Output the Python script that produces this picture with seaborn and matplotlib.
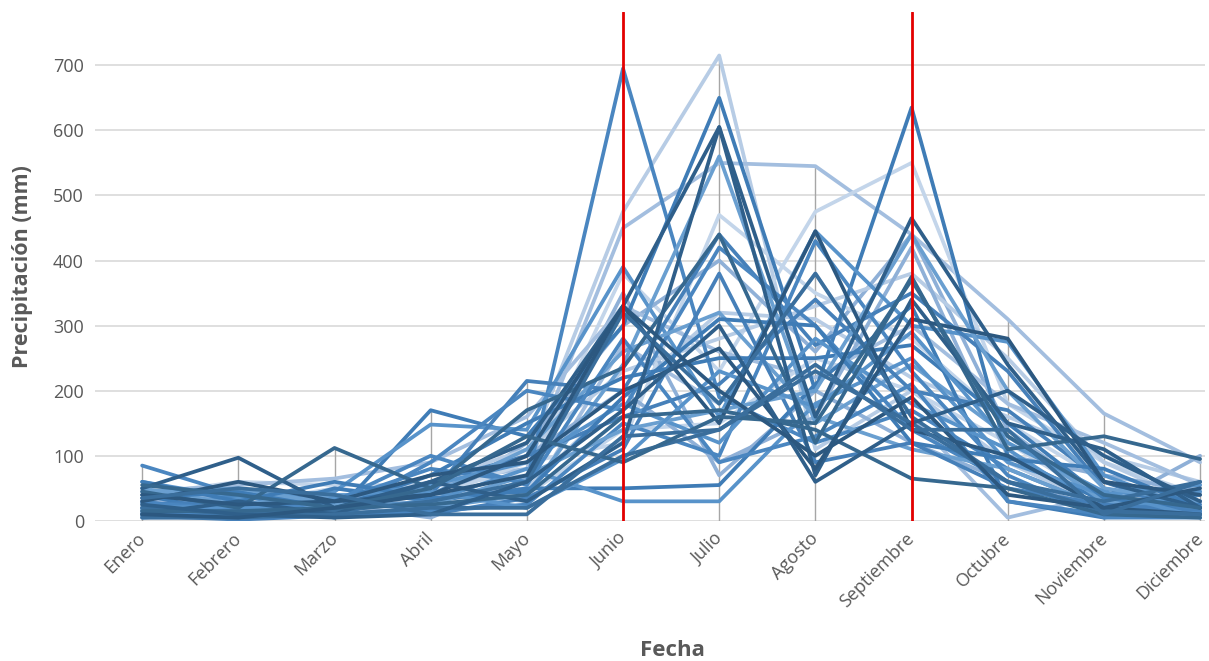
import pandas as pd
import seaborn as sns
import matplotlib.pyplot as plt
from matplotlib.transforms import ScaledTranslation

# Months (x axis categories)
meses = ['Enero', 'Febrero', 'Marzo', 'Abril', 'Mayo', 'Junio', 'Julio',
         'Agosto', 'Septiembre', 'Octubre', 'Noviembre', 'Diciembre']

# Monthly precipitation (mm) per year, grouped by line shade as in the chart
oscuras = [
    [50, 97, 20, 60, 120, 330, 605, 160, 465, 240, 60, 20],
    [45, 20, 112, 50, 170, 235, 440, 120, 375, 110, 130, 95],
    [30, 60, 30, 40, 100, 330, 150, 445, 140, 100, 20, 10],
    [20, 10, 15, 30, 60, 320, 180, 380, 160, 60, 30, 60],
    [10, 30, 10, 60, 30, 120, 605, 70, 340, 150, 110, 20],
    [15, 15, 20, 25, 40, 160, 170, 140, 65, 50, 10, 5],
    [40, 25, 30, 70, 90, 200, 265, 80, 310, 280, 60, 40],
    [5, 5, 10, 20, 20, 100, 140, 230, 150, 60, 15, 10],
    [25, 10, 5, 10, 60, 170, 300, 60, 150, 200, 100, 30],
    [55, 40, 20, 50, 130, 90, 160, 150, 370, 130, 40, 20],
    [10, 5, 20, 40, 70, 330, 200, 100, 190, 40, 20, 50],
    [35, 50, 40, 10, 10, 130, 140, 240, 140, 140, 10, 60],
]
medias = [
    [85, 40, 30, 80, 60, 695, 190, 120, 170, 80, 20, 10],
    [20, 20, 10, 170, 130, 300, 650, 200, 635, 100, 30, 20],
    [60, 35, 45, 148, 140, 390, 160, 445, 300, 275, 70, 15],
    [30, 10, 30, 40, 215, 200, 440, 270, 350, 230, 50, 20],
    [10, 20, 25, 20, 40, 240, 560, 150, 240, 130, 30, 10],
    [15, 40, 10, 90, 200, 170, 420, 300, 140, 60, 10, 40],
    [40, 10, 50, 30, 50, 50, 55, 210, 330, 30, 5, 30],
    [5, 15, 20, 30, 80, 30, 30, 180, 250, 90, 40, 55],
    [25, 30, 5, 60, 100, 160, 210, 340, 200, 170, 60, 10],
    [50, 25, 40, 40, 110, 260, 320, 160, 110, 80, 20, 15],
    [12, 8, 12, 15, 25, 150, 100, 430, 230, 70, 5, 5],
    [35, 45, 20, 70, 150, 220, 250, 250, 270, 150, 35, 25],
    [18, 12, 35, 55, 90, 180, 120, 280, 180, 110, 15, 45],
    [8, 2, 8, 10, 35, 110, 380, 90, 120, 50, 25, 15],
    [45, 50, 25, 25, 70, 140, 170, 200, 440, 200, 50, 30],
    [28, 18, 30, 100, 55, 280, 90, 130, 210, 30, 10, 12],
    [60, 30, 60, 35, 45, 190, 310, 300, 120, 95, 80, 20],
    [20, 22, 15, 45, 20, 95, 230, 175, 290, 120, 45, 5],
]
claras = [
    [30, 20, 20, 30, 100, 475, 715, 110, 200, 90, 20, 10],
    [20, 10, 30, 60, 80, 450, 550, 545, 440, 310, 165, 90],
    [40, 60, 55, 55, 70, 380, 230, 475, 550, 180, 90, 40],
    [15, 30, 40, 20, 120, 300, 400, 260, 440, 140, 30, 20],
    [10, 45, 20, 40, 50, 190, 320, 310, 220, 160, 100, 60],
    [35, 15, 10, 45, 30, 270, 180, 380, 160, 5, 40, 20],
    [50, 25, 50, 35, 90, 120, 470, 350, 280, 150, 60, 30],
    [5, 5, 25, 5, 65, 350, 70, 200, 120, 60, 20, 100],
    [22, 35, 15, 60, 110, 230, 280, 330, 380, 250, 90, 25],
    [45, 55, 65, 90, 160, 330, 260, 220, 300, 180, 120, 55],
    [12, 8, 18, 25, 40, 140, 150, 250, 200, 120, 30, 15],
    [28, 40, 35, 50, 100, 200, 90, 160, 420, 100, 70, 45],
]

tonos_claros = ['#b7cce5', '#a3bedf', '#c3d5ea', '#8fb0d7']
tonos_medios = ['#4a86c0', '#3f7cb6', '#5893ca', '#4680b9', '#6a9fd0']
tonos_oscuros = ['#2f5f8a', '#36688f', '#2c5880', '#3a6e9c']

# long-form table
filas = []
colores = {}
for grupo, series, tonos in [('c', claras, tonos_claros),
                             ('m', medias, tonos_medios),
                             ('o', oscuras, tonos_oscuros)]:
    for i, valores in enumerate(series):
        nombre = f'{grupo}{i}'
        colores[nombre] = tonos[i % len(tonos)]
        for j, v in enumerate(valores):
            filas.append({'serie': nombre, 'grupo': grupo, 'mes': j, 'pp': v})
df = pd.DataFrame(filas)

sns.set_style('whitegrid', {'grid.color': '#d9d9d9'})
plt.rcParams['font.family'] = ['Open Sans', 'DejaVu Sans']

fig = plt.figure(figsize=(12.09, 6.61), dpi=100)
ax = fig.add_axes([0.0786, 0.212, 0.918, 0.77])

# Excel-style drop lines from 0 to the monthly max
maximos = df.groupby('mes')['pp'].max()
ax.vlines(maximos.index, 0, maximos.values, color='#a6a6a6', lw=1, zorder=1)

for grupo in ['c', 'm', 'o']:
    sub = df[df['grupo'] == grupo]
    sns.lineplot(data=sub, x='mes', y='pp', hue='serie', palette=colores,
                 estimator=None, legend=False, lw=2.7, ax=ax, zorder=2)

for mes in ['Junio', 'Septiembre']:
    ax.axvline(meses.index(mes), color='#e30000', lw=2, zorder=5)

ax.set_xlim(-0.49, 11.05)
ax.set_ylim(0, 782)
ax.set_yticks(range(0, 800, 100))
ax.set_xticks(range(len(meses)))
ax.set_xticklabels(meses, rotation=45, ha='right', va='top', rotation_mode='anchor')
ax.tick_params(axis='both', colors='#595959', labelsize=13, length=0)
ax.tick_params(axis='x', pad=6)
ax.tick_params(axis='y', pad=8)
# nudge rotated labels a bit to the left so Diciembre stays inside
desplazar = ScaledTranslation(-6 / 100, 0, fig.dpi_scale_trans)
for lab in ax.get_xticklabels():
    lab.set_transform(lab.get_transform() + desplazar)
ax.grid(axis='x', visible=False)
ax.grid(axis='y', lw=1.2)
for s in ax.spines.values():
    s.set_visible(False)

ax.set_xlabel('Fecha', fontsize=16, fontweight='bold', color='#595959')
ax.xaxis.set_label_coords(0.52, -0.235)
ax.set_ylabel('Precipitación (mm)', fontsize=15.5, fontweight='bold', color='#595959')
ax.yaxis.set_label_coords(-0.056, 0.5)

plt.savefig('out.png', dpi=100)
